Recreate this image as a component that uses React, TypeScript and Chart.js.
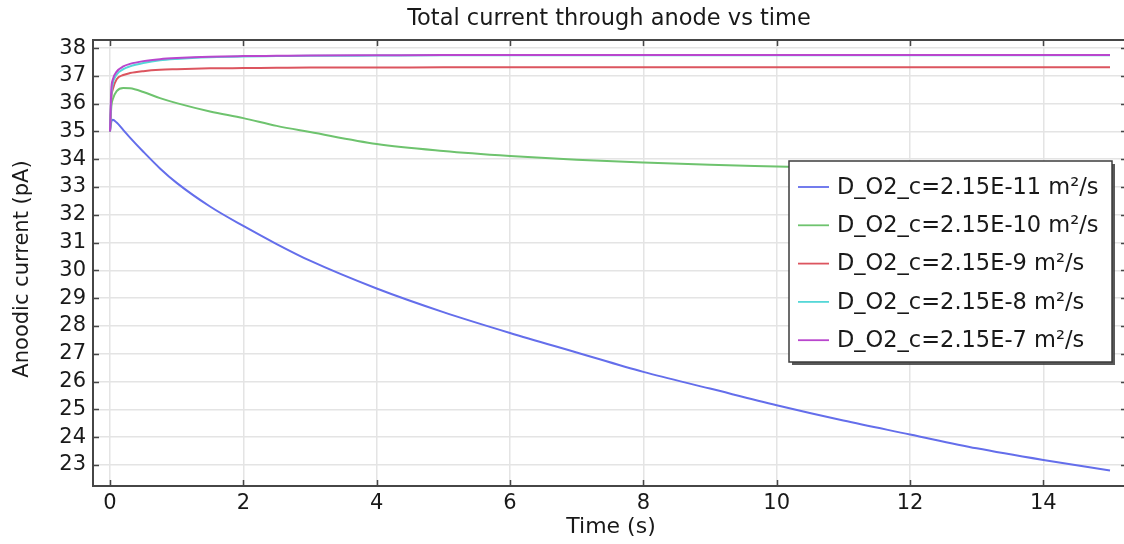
import React, { useEffect, useRef } from "react";
import { Chart, registerables } from "chart.js";

Chart.register(...registerables);

const timeS = [0, 0.02, 0.04, 0.1, 0.2, 0.3, 0.5, 0.75, 1, 1.5, 2, 2.5, 3, 4, 5, 6, 7, 8, 9, 10, 11, 12, 13, 14, 15];

const d11 = [35.0, 35.35, 35.42, 35.32, 35.05, 34.78, 34.27, 33.67, 33.15, 32.3, 31.6, 30.95, 30.35, 29.35, 28.5, 27.75, 27.05, 26.35, 25.75, 25.15, 24.6, 24.1, 23.6, 23.18, 22.8];
const d10 = [35.0, 35.9, 36.15, 36.45, 36.56, 36.55, 36.42, 36.2, 36.02, 35.72, 35.48, 35.2, 34.98, 34.55, 34.3, 34.12, 33.98, 33.88, 33.8, 33.74, 33.68, 33.63, 33.59, 33.55, 33.52];
const d9 = [35.0, 36.2, 36.5, 36.88, 37.03, 37.1, 37.17, 37.22, 37.24, 37.27, 37.28, 37.29, 37.3, 37.3, 37.31, 37.31, 37.31, 37.31, 37.31, 37.31, 37.31, 37.31, 37.31, 37.31, 37.31];
const d8 = [35.0, 36.3, 36.7, 37.05, 37.24, 37.34, 37.46, 37.56, 37.61, 37.67, 37.7, 37.71, 37.72, 37.73, 37.74, 37.74, 37.74, 37.74, 37.74, 37.74, 37.74, 37.74, 37.74, 37.74, 37.74];
const d7 = [35.0, 36.5, 36.85, 37.15, 37.34, 37.43, 37.53, 37.6, 37.64, 37.69, 37.71, 37.72, 37.73, 37.74, 37.75, 37.75, 37.75, 37.75, 37.75, 37.75, 37.75, 37.75, 37.75, 37.75, 37.75];

const seriesLabels = [
  "D_O2_c=2.15E-11 m²/s",
  "D_O2_c=2.15E-10 m²/s",
  "D_O2_c=2.15E-9 m²/s",
  "D_O2_c=2.15E-8 m²/s",
  "D_O2_c=2.15E-7 m²/s",
];
const seriesColors = [
  "rgb(100,110,235)",
  "rgb(110,195,110)",
  "rgb(220,85,95)",
  "rgb(85,215,215)",
  "rgb(185,70,205)",
];
const seriesValues = [d11, d10, d9, d8, d7];

const xTicks = [0, 2, 4, 6, 8, 10, 12, 14];
const yTicks = [23, 24, 25, 26, 27, 28, 29, 30, 31, 32, 33, 34, 35, 36, 37, 38];

const titleText = "Total current through anode vs time";
const xTitle = "Time (s)";
const yTitle = "Anoodic current (pA)";

const FONT = "'DejaVu Sans', sans-serif";

const decorPlugin = {
  id: "decor",
  afterDatasetsDraw(chart: any) {
    const ctx = chart.ctx as CanvasRenderingContext2D;
    const { left, right, top, bottom } = chart.chartArea;
    const xs = chart.scales.x;
    const ys = chart.scales.y;
    ctx.save();
    // frame
    ctx.strokeStyle = "rgb(70,70,70)";
    ctx.lineWidth = 2;
    ctx.strokeRect(left, top, right - left, bottom - top);
    // ticks inward
    ctx.lineWidth = 1.5;
    ctx.beginPath();
    for (const v of xTicks) {
      const px = Math.round(xs.getPixelForValue(v)) + 0.5;
      ctx.moveTo(px, bottom);
      ctx.lineTo(px, bottom - 6);
      ctx.moveTo(px, top);
      ctx.lineTo(px, top + 6);
    }
    for (const v of yTicks) {
      const py = Math.round(ys.getPixelForValue(v)) + 0.5;
      ctx.moveTo(left, py);
      ctx.lineTo(left + 6, py);
      ctx.moveTo(right, py);
      ctx.lineTo(right - 6, py);
    }
    ctx.stroke();

    // titles
    ctx.fillStyle = "rgb(25,25,25)";
    ctx.textAlign = "center";
    ctx.textBaseline = "middle";
    ctx.font = `22.5px ${FONT}`;
    ctx.fillText(titleText, 609, 19);
    ctx.font = `22px ${FONT}`;
    ctx.fillText(xTitle, 611, 527);
    ctx.save();
    ctx.translate(23, 269);
    ctx.rotate(-Math.PI / 2);
    ctx.font = `21px ${FONT}`;
    ctx.fillText(yTitle, 0, 0);
    ctx.restore();

    // legend
    const lx = 789, ly = 161, lw = 323, lh = 201;
    ctx.fillStyle = "rgba(60,60,60,0.85)";
    ctx.fillRect(lx + 3, ly + 3, lw, lh);
    ctx.fillStyle = "#fff";
    ctx.fillRect(lx, ly, lw, lh);
    ctx.strokeStyle = "rgb(60,60,60)";
    ctx.lineWidth = 1.5;
    ctx.strokeRect(lx, ly, lw, lh);
    ctx.font = `22.5px ${FONT}`;
    ctx.textAlign = "left";
    ctx.textBaseline = "middle";
    chart.data.datasets.forEach((ds: any, i: number) => {
      const cy = 187 + i * 38.3;
      ctx.strokeStyle = ds.borderColor;
      ctx.lineWidth = 1.8;
      ctx.beginPath();
      ctx.moveTo(798, cy);
      ctx.lineTo(829, cy);
      ctx.stroke();
      ctx.fillStyle = "rgb(25,25,25)";
      ctx.fillText(ds.label, 837, cy + 1);
    });
    ctx.restore();
  },
};

export default function App() {
  const ref = useRef<HTMLCanvasElement>(null);
  useEffect(() => {
    const datasets = seriesValues.map((vals, i) => ({
      label: seriesLabels[i],
      data: vals.map((y, k) => ({ x: timeS[k], y })),
      borderColor: seriesColors[i],
      backgroundColor: seriesColors[i],
      borderWidth: 2,
      pointRadius: 0,
      fill: false,
      cubicInterpolationMode: "monotone" as const,
      order: seriesValues.length - 1 - i,
    }));
    const chart = new Chart(ref.current!, {
      type: "line",
      data: { datasets },
      options: {
        animation: false,
        responsive: false,
        devicePixelRatio: 1,
        layout: { padding: { top: 40, right: 3, bottom: 0, left: 0 } },
        plugins: {
          legend: { display: false },
          title: { display: false },
          tooltip: { enabled: false },
        },
        scales: {
          x: {
            type: "linear",
            min: -0.255,
            max: 15.255,
            afterBuildTicks: (s: any) => {
              s.ticks = xTicks.map((v) => ({ value: v }));
            },
            afterFit: (s: any) => {
              s.height = 58;
            },
            grid: { color: "rgb(228,228,228)", lineWidth: 1.5, drawTicks: false },
            border: { display: false },
            ticks: {
              padding: 5,
              color: "rgb(25,25,25)",
              font: { family: FONT, size: 21 },
              maxRotation: 0,
            },
          },
          y: {
            type: "linear",
            min: 22.245,
            max: 38.29,
            afterBuildTicks: (s: any) => {
              s.ticks = yTicks.map((v) => ({ value: v }));
            },
            afterFit: (s: any) => {
              s.width = 93;
            },
            grid: { color: "rgb(228,228,228)", lineWidth: 1.5, drawTicks: false },
            border: { display: false },
            ticks: {
              padding: 7,
              color: "rgb(25,25,25)",
              font: { family: FONT, size: 21 },
            },
          },
        },
      },
      plugins: [decorPlugin],
    });
    return () => chart.destroy();
  }, []);
  return (
    <div
      style={{
        position: "fixed",
        left: 0,
        top: 0,
        width: 1124,
        height: 544,
        overflow: "hidden",
        background: "#fff",
      }}
    >
      <canvas ref={ref} width={1130} height={544} style={{ display: "block" }} />
    </div>
  );
}
